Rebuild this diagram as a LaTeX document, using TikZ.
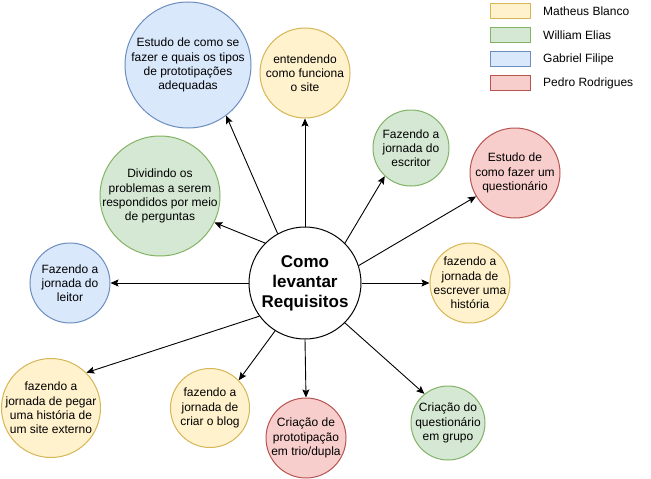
\documentclass[tikz,border=0pt]{standalone}
\usepackage{fontspec}
\setmainfont{Liberation Sans}
\usetikzlibrary{arrows.meta}
\definecolor{yfill}{HTML}{FFF2CC}\definecolor{ydraw}{HTML}{D6B656}
\definecolor{gfill}{HTML}{D5E8D4}\definecolor{gdraw}{HTML}{82B366}
\definecolor{bfill}{HTML}{DAE8FC}\definecolor{bdraw}{HTML}{6C8EBF}
\definecolor{rfill}{HTML}{F8CECC}\definecolor{rdraw}{HTML}{B85450}
\begin{document}
\begin{tikzpicture}[x=1pt,y=-1pt,
  circ/.style={circle, line width=1pt, inner sep=0pt},
  ylw/.style={circ, fill=yfill, draw=ydraw},
  grn/.style={circ, fill=gfill, draw=gdraw},
  blu/.style={circ, fill=bfill, draw=bdraw},
  red/.style={circ, fill=rfill, draw=rdraw},
  txt/.style={align=center, font=\fontsize{12}{14.2}\selectfont, inner sep=0pt},
  legbox/.style={rectangle, line width=1pt, minimum width=40pt, minimum height=15pt, inner sep=0pt},
  legtxt/.style={anchor=west, font=\fontsize{12}{14}\selectfont, inner sep=0pt},
  arr/.style={-{Stealth[length=8pt,width=7pt,inset=1.5pt]}, line width=0.9pt}]
\useasboundingbox (0,0) rectangle (651,479);
\fill[white] (0,0) rectangle (651,479);

% legend
\node[legbox, fill=yfill, draw=ydraw] (l1) at (510,11) {};
\node[legbox, fill=gfill, draw=gdraw] (l2) at (510,35) {};
\node[legbox, fill=bfill, draw=bdraw] (l3) at (510,59) {};
\node[legbox, fill=rfill, draw=rdraw] (l4) at (510,83) {};
\node[legtxt] (l1t) at (543,11) {Matheus Blanco};
\node[legtxt] (l2t) at (543,35) {William Elias};
\node[legtxt] (l3t) at (543,59) {Gabriel Filipe};
\node[legtxt] (l4t) at (543,83) {Pedro Rodrigues};

% center
\node[circ, draw=black, fill=white, minimum size=112pt] (c) at (305,283) {};
\node[align=center, inner sep=0pt, font=\fontsize{17}{20}\selectfont\bfseries] (ct) at (c) {Como\\levantar\\Requisitos};

% satellites
\node[blu, minimum size=126pt] (b1) at (188,65) {};
\node[txt] (b1t) at (b1) {Estudo de como se\\fazer e quais os tipos\\de prototipações\\adequadas};
\node[ylw, minimum size=90pt] (y1) at (305,73) {};
\node[txt] (y1t) at (y1) {entendendo\\como funciona\\o site};
\node[grn, minimum size=76pt] (g1) at (411,148) {};
\node[txt] (g1t) at (g1) {Fazendo a\\jornada do\\escritor};
\node[red, minimum size=90pt] (r1) at (515,173) {};
\node[txt] (r1t) at (r1) {Estudo de\\como fazer um\\questionário};
\node[grn, minimum size=120pt] (g2) at (160,196) {};
\node[txt] (g2t) at (g2) {Dividindo os\\problemas a serem\\respondidos por meio\\de perguntas};
\node[blu, minimum size=80pt] (b2) at (70,283) {};
\node[txt] (b2t) at (b2) {Fazendo a\\jornada do\\leitor};
\node[ylw, minimum size=80pt] (y2) at (470,283) {};
\node[txt] (y2t) at (y2) {fazendo a\\jornada de\\escrever uma\\história};
\node[ylw, minimum size=99pt] (y3) at (51,408) {};
\node[txt] (y3t) at (y3) {fazendo a\\jornada de pegar\\uma história de\\um site externo};
\node[ylw, minimum size=79pt] (y4) at (210,408) {};
\node[txt] (y4t) at (y4) {fazendo a\\jornada de\\criar o blog};
\node[red, minimum size=80pt] (r2) at (306,438) {};
\node[txt] (r2t) at (r2) {Criação de\\prototipação\\em trio/dupla};
\node[grn, minimum size=74pt] (g3) at (448,423) {};
\node[txt] (g3t) at (g3) {Criação do\\questionário\\em grupo};

% connectors
\draw[arr] (c.119) -- (b1.-53);
\draw[arr] (c.90) -- (y1.-90);
\draw[arr] (c.45) -- (g1.-133);
\draw[arr] (c.18) -- (r1.-149);
\draw[arr] (c.0) -- (y2.180);
\draw[arr] (c.-45) -- (g3.129);
\draw[arr] (c.-90) -- (r2.90);
\draw[arr] (c.-122) -- (y4.44);
\draw[arr] (c.-144) -- (y3.45);
\draw[arr] (c.180) -- (b2.0);
\draw[arr] (c.135) -- (g2.-26);
\end{tikzpicture}
\end{document}
